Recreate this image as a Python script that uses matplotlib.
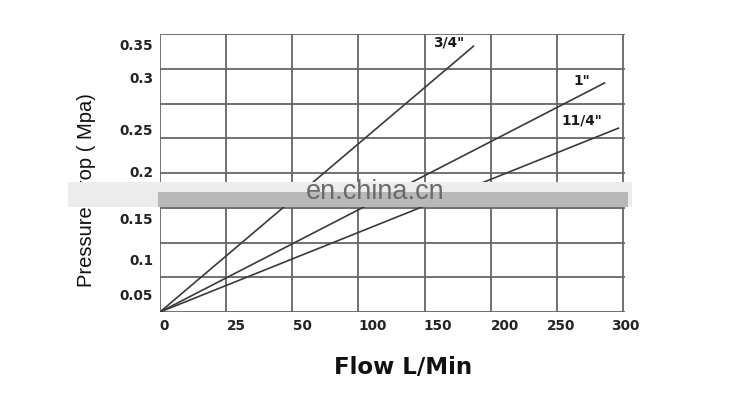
import matplotlib
matplotlib.use("Agg")
import matplotlib.pyplot as plt
from matplotlib.ticker import FixedLocator
from matplotlib.patches import Rectangle

# ---- data (in grid units of the chart: x cells 0..7, y cells 0..8) ----
x_labels = ['0', '25', '50', '100', '150', '200', '250', '300']
y_labels = ['0.05', '0.1', '0.15', '0.2', '0.25', '0.3', '0.35']
series_names = ['3/4"', '1"', '11/4"']
series_x_end = [4.74, 6.72, 6.93]
series_y_end = [7.65, 6.59, 5.29]

# ---- layout ----
x_label_pos = [0.06, 1.16, 2.15, 3.21, 4.2, 5.22, 6.07, 7.03]
y_label_pos = [0.49, 1.50, 2.70, 4.03, 5.24, 6.76, 7.71]

plt.rcParams['font.family'] = ['Liberation Sans', 'DejaVu Sans']
tick_font = dict(family='DejaVu Sans', weight='bold', size=9.8)

fig = plt.figure(figsize=(7.5, 4.0), dpi=100)
ax = fig.add_axes([160/750, 1-312/400, (625-160)/750, (312-34)/400])
ax.set_xlim(0, 7)
ax.set_ylim(0, 8)

grid_c = '#666666'
ax.xaxis.set_minor_locator(FixedLocator(range(0, 8)))
ax.yaxis.set_minor_locator(FixedLocator(range(0, 9)))
ax.grid(which='minor', color=grid_c, linewidth=1.3)
ax.grid(which='major', visible=False)
ax.set_xticks(x_label_pos)
ax.set_xticklabels(x_labels, color='#222222', **tick_font)
ax.set_yticks(y_label_pos)
ax.set_yticklabels(y_labels, color='#222222', **tick_font)
ax.tick_params(which='both', length=0)
ax.tick_params(axis='x', pad=5)
ax.tick_params(axis='y', pad=5)
for s in ax.spines.values():
    s.set_visible(False)
ax.set_axisbelow(True)

for name, xe, ye in zip(series_names, series_x_end, series_y_end):
    ax.plot([0, xe], [0, ye], color='#3a3a3a', linewidth=1.2, zorder=3)

label_xy = [(4.36, 7.75), (6.37, 6.65), (6.38, 5.5)]
for name, (lx, ly) in zip(series_names, label_xy):
    ax.text(lx, ly, name, color='#1a1a1a', ha='center', va='center',
            zorder=4, **tick_font)

fig.text(403/750, 1-368/400, 'Flow L/Min', fontsize=16.5, fontweight='bold',
         family='DejaVu Sans', ha='center', va='center', color='#111111')
fig.text(86/750, 1-190/400, 'Pressure Drop ( Mpa)', fontsize=14.5,
         rotation=90, ha='center', va='center', color='#111111')

# watermark band
fig.patches.append(Rectangle((68/750, 1-207/400), (632-68)/750, 25/400,
                             transform=fig.transFigure, facecolor='#ececec',
                             edgecolor='none', zorder=5))
fig.patches.append(Rectangle((158/750, 1-207/400), (628-158)/750, 15/400,
                             transform=fig.transFigure, facecolor='#b8b8b8',
                             edgecolor='none', zorder=5))
fig.text(375/750, 1-192/400, 'en.china.cn', fontsize=19.5, color='#6a6a6a',
         ha='center', va='center', zorder=6)

fig.savefig('out.png', dpi=100, facecolor='white')
